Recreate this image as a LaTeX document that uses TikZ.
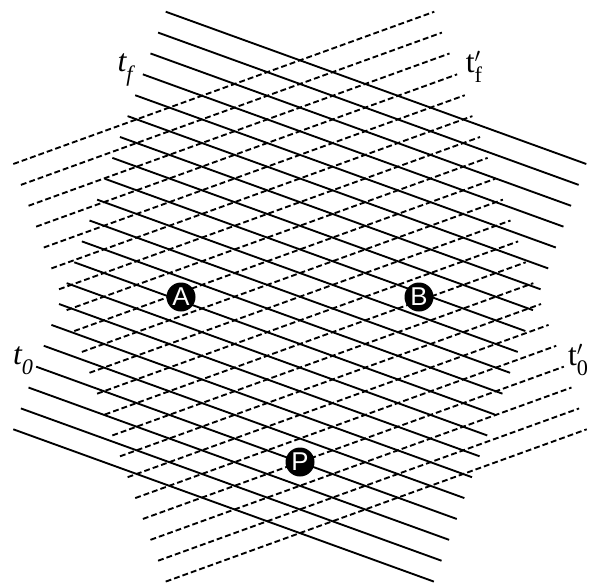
\documentclass[tikz,border=0pt]{standalone}
\usepackage{fontspec}
\newfontfamily\eventfont{Liberation Sans}
\newfontfamily\timefont{Liberation Serif}
\newcommand{\tsub}[1]{\raisebox{-0.32em}{\fontsize{19}{19}\selectfont #1}}
\tikzset{
    worldline/.style={line width=1.6pt, draw=black},
    worldlinep/.style={line width=1.6pt, draw=black, dash pattern=on 5pt off 2.6pt},
    event/.style={circle, fill=black, minimum size=0.87cm, inner sep=0pt, text=white, font=\eventfont\fontsize{22}{22}\selectfont},
    tlabel/.style={font=\timefont\fontsize{27}{27}\selectfont, inner sep=0pt}
}
\begin{document}
\begin{tikzpicture}[x=0.03cm, y=-0.03cm]
    \useasboundingbox (0,0) rectangle (597,585);

    % Solid world lines, from t_0 up to t_f
    \foreach \k in {0,...,20} {
        \draw[worldline] (165.7-7.62*\k, 11.7+20.88*\k) -- ++(420.6,152.3);
    }

    % Dashed world lines, from t'_0 up to t'_f
    \foreach \k in {0,...,20} {
        \draw[worldlinep] (13.3+7.62*\k, 164+20.88*\k) -- ++(421,-152.3);
    }

    % Events
    \node[event] (A) at (181,297) {A};
    \node[event] (B) at (419,297) {B};
    \node[event] (P) at (300,462) {P};

    % Time labels
    \node[tlabel] (tf) at (125,70) {\itshape t\tsub{f}};
    \node[tlabel] (tfp) at (474,67) {t\rlap{$'$}\tsub{f}};
    \node[tlabel] (t0) at (23,361) {\itshape t\tsub{0}};
    \node[tlabel] (t0p) at (578,360) {t\rlap{$'$}\tsub{0}};
\end{tikzpicture}
\end{document}
